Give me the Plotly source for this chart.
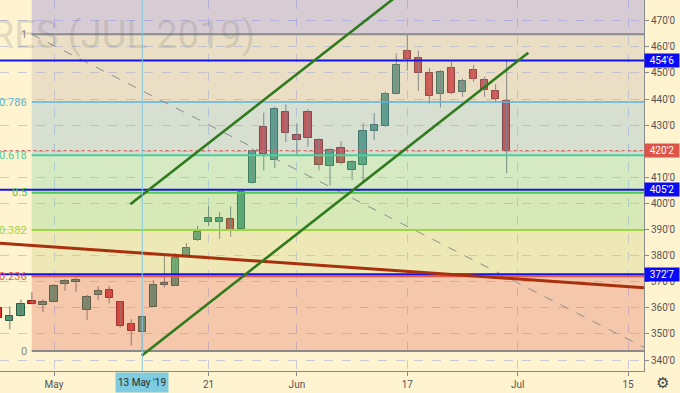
import plotly.graph_objects as go

# ---------------- data ----------------
# bar index: 0 = 1 May 2019 (trading days, Memorial Day skipped)
bar_index = list(range(-5, 42))
opens = [359.8, 354.9, 356.9, 362.7, 361.0, 362.2, 369.1, 370.0, 359.1, 364.9,
         366.9, 362.3, 353.8, 350.9, 360.5, 368.7, 368.4, 379.9, 385.9, 393.0,
         393.0, 394.0, 390.3, 407.8, 429.3, 416.5, 435.1, 426.3, 434.9, 424.3,
         414.4, 421.1, 412.9, 414.9, 427.7, 429.7, 441.9, 458.5, 455.6, 449.8,
         441.8, 452.0, 442.5, 451.1, 447.3, 443.1, 439.2]
highs = [360.6, 360.6, 363.2, 366.0, 363.2, 369.1, 371.0, 371.9, 365.0, 368.3,
         368.3, 362.6, 355.6, 357.0, 370.6, 379.9, 380.9, 384.8, 391.4, 398.9,
         396.6, 398.9, 405.2, 421.1, 434.8, 437.1, 437.9, 430.7, 436.1, 424.9,
         421.1, 423.8, 416.6, 430.7, 434.6, 442.9, 457.5, 464.5, 458.5, 451.9,
         451.1, 454.3, 447.9, 453.0, 448.5, 445.7, 455.2]
lows = [354.7, 351.8, 356.6, 361.3, 358.3, 362.2, 366.5, 366.1, 355.4, 362.9,
        361.7, 352.4, 345.5, 343.5, 360.5, 367.8, 368.4, 379.6, 385.6, 391.3,
        386.4, 387.2, 390.0, 407.5, 412.7, 413.5, 423.5, 418.4, 421.7, 412.7,
        406.9, 414.9, 409.0, 408.4, 424.3, 429.4, 441.8, 450.8, 443.1, 438.3,
        436.8, 441.8, 440.8, 446.6, 440.8, 438.9, 411.6]
closes = [356.0, 357.0, 361.3, 361.3, 362.4, 368.3, 370.4, 370.5, 364.0, 366.3,
          363.8, 353.0, 351.2, 356.6, 368.6, 369.5, 379.0, 383.1, 389.0, 394.3,
          394.3, 390.0, 404.4, 420.2, 418.8, 436.3, 426.9, 424.2, 425.2, 414.7,
          420.3, 415.6, 415.8, 427.9, 430.2, 442.1, 453.0, 455.2, 449.8, 441.1,
          450.5, 442.4, 446.9, 447.5, 443.4, 440.1, 420.25]

x_tick_index = [0, 14, 22, 32, 42, 52]
x_tick_labels = ["May", "21", "Jun", "17", "Jul", "15"]
crosshair_index = 8
crosshair_label = "13 May '19"

price_ticks = list(range(340, 480, 10))

fib_low = 343.45
fib_high = 464.8
fib_start_index = -2.02
fib_end_index = 54.08
fib_levels = [0, 0.236, 0.382, 0.5, 0.618, 0.786, 1, 1.618]
fib_line_colors = ["#8a8a8a", "#e8574f", "#9fd444", "#4fc94f", "#4ccf9c", "#5cb3dc", "#8a8a8a", "#8a8a8a"]
fib_band_colors = ["rgba(222,103,91,0.3)", "rgba(195,210,118,0.3)", "rgba(118,213,125,0.3)",
                   "rgba(115,213,165,0.3)", "rgba(122,180,207,0.3)", "rgba(185,176,171,0.3)",
                   "rgba(125,116,221,0.3)"]

key_levels = [454.75, 405.25, 372.875]
last_price = 420.25

upper_channel = [(6.91, 399.66), (31.5, 480.9)]
lower_channel = [(7.94, 341.65), (42.96, 457.74)]
long_trend = [(-4.891, 384.71), (53.44, 367.70)]

watermark = "CORN FUTURES (JUL 2019)"

# ---------------- helpers ----------------
def fmt_eighths(p):
    whole = int(p)
    return f"{whole}'{int(round((p - whole) * 8))}"

BG = "#fff3d0"
FONT = "Roboto"
UP_FILL, UP_LINE = "#4f9a74", "#2d5a43"
DN_FILL, DN_LINE = "#da3530", "#7e1f1c"

fig = go.Figure()

# wicks
wx, wy = [], []
for i, h, l in zip(bar_index, highs, lows):
    wx += [i, i, None]
    wy += [l, h, None]
fig.add_trace(go.Scatter(x=wx, y=wy, mode="lines", line=dict(color="#767676", width=1),
                         hoverinfo="skip"))

# bodies
up = [c >= o for o, c in zip(opens, closes)]
fig.add_trace(go.Bar(
    x=bar_index,
    base=[min(o, c) for o, c in zip(opens, closes)],
    y=[max(abs(c - o), 0.4) for o, c in zip(opens, closes)],
    width=0.66,
    marker=dict(color=[UP_FILL if u else DN_FILL for u in up],
                line=dict(color=[UP_LINE if u else DN_LINE for u in up], width=1)),
    hoverinfo="skip",
))

shapes = []
fib_prices = [fib_low + f * (fib_high - fib_low) for f in fib_levels]
# bands (drawn above candles, translucent like the original drawing)
for k in range(len(fib_levels) - 1):
    shapes.append(dict(type="rect", xref="x", yref="y", x0=fib_start_index, x1=80,
                       y0=fib_prices[k], y1=fib_prices[k + 1], fillcolor=fib_band_colors[k],
                       line=dict(width=0), layer="above"))
# fib level lines
for k, f in enumerate(fib_levels[:-1]):
    shapes.append(dict(type="line", xref="x", yref="y", x0=fib_start_index, x1=80,
                       y0=fib_prices[k], y1=fib_prices[k], layer="above",
                       line=dict(color=fib_line_colors[k], width=2 if f not in (0.786,) else 1.5)))
# fib trend (dashed diagonal)
shapes.append(dict(type="line", xref="x", yref="y", x0=fib_start_index, y0=fib_high,
                   x1=fib_end_index, y1=fib_low, layer="above",
                   line=dict(color="#8d8d8d", width=1, dash="dash")))
# key horizontal levels
for lv in key_levels:
    shapes.append(dict(type="line", xref="x", yref="y", x0=-10, x1=80, y0=lv, y1=lv,
                       layer="above", line=dict(color="#1414e6", width=2)))
# last price dotted line
shapes.append(dict(type="line", xref="x", yref="y", x0=-10, x1=80, y0=last_price, y1=last_price,
                   layer="above", line=dict(color="#d26a6a", width=1.2, dash="dot")))
# long downtrend line
shapes.append(dict(type="line", xref="x", yref="y", x0=long_trend[0][0], y0=long_trend[0][1],
                   x1=long_trend[1][0], y1=long_trend[1][1], layer="above",
                   line=dict(color="#a8300c", width=3)))
# channel
for seg in (upper_channel, lower_channel):
    shapes.append(dict(type="line", xref="x", yref="y", x0=seg[0][0], y0=seg[0][1],
                       x1=seg[1][0], y1=seg[1][1], layer="above",
                       line=dict(color="#2f7a1c", width=2.6)))
# crosshair
shapes.append(dict(type="line", xref="x", yref="paper", x0=crosshair_index, x1=crosshair_index,
                   y0=0, y1=1, layer="above", line=dict(color="#86c8de", width=1)))

annotations = []
# watermark
annotations.append(dict(text=watermark, xref="paper", yref="paper", x=257 / 644, y=1 - 35 / 371,
                        xanchor="right", yanchor="middle", showarrow=False,
                        font=dict(family=FONT, size=38, color="rgba(110,110,110,0.2)")))
# fib labels
for k, f in enumerate(fib_levels[:-1]):
    txt = "0" if f == 0 else ("1" if f == 1 else f"{f:g}")
    annotations.append(dict(text=txt, xref="x", yref="y", x=-2.25, y=fib_prices[k],
                            xanchor="right", yanchor="middle", showarrow=False,
                            font=dict(family=FONT, size=11, color=fib_line_colors[k])))
# right-axis price labels
for lv in key_levels:
    annotations.append(dict(text=fmt_eighths(lv), xref="paper", yref="y", x=1.0, y=lv,
                            xanchor="left", yanchor="middle", showarrow=False,
                            bgcolor="#0a0af5", width=33, height=12, borderpad=0.5,
                            font=dict(family=FONT, size=10, color="white")))
annotations.append(dict(text=fmt_eighths(last_price), xref="paper", yref="y", x=1.0, y=last_price,
                        xanchor="left", yanchor="middle", showarrow=False,
                        bgcolor="#df5449", width=33, height=12, borderpad=0.5,
                        font=dict(family=FONT, size=10, color="white")))
# crosshair date label
annotations.append(dict(text=crosshair_label, xref="x", yref="paper", x=crosshair_index, y=0,
                        xanchor="center", yanchor="top", yshift=-1, showarrow=False,
                        bgcolor="#7fcbe0", width=50, height=17, borderpad=1,
                        font=dict(family=FONT, size=10, color="#2a2a2a")))
# settings icon
annotations.append(dict(text="⚙", xref="paper", yref="paper", x=662 / 644, y=-11 / 371,
                        xanchor="center", yanchor="middle", showarrow=False,
                        font=dict(size=15, color="#444")))

fig.update_layout(
    width=680, height=393,
    margin=dict(l=0, r=36, t=0, b=22, autoexpand=False),
    paper_bgcolor=BG, plot_bgcolor=BG,
    showlegend=False,
    shapes=shapes, annotations=annotations,
    xaxis=dict(range=[-4.891, 53.44], tickmode="array", tickvals=x_tick_index,
               ticktext=x_tick_labels, showgrid=True, gridcolor="#c8cbd6", griddash="dash",
               gridwidth=1, zeroline=False, showline=True, linecolor="#8a8a8a", linewidth=1,
               ticks="outside", ticklen=4, tickcolor="#8a8a8a", automargin=False,
               tickfont=dict(family=FONT, size=10, color="#555")),
    yaxis=dict(side="right", range=[335.79, 477.93], tickmode="array", tickvals=price_ticks,
               ticktext=[fmt_eighths(p) for p in price_ticks], showgrid=True,
               gridcolor="#c8cbd6", griddash="dash", gridwidth=1, zeroline=False,
               showline=True, linecolor="#8a8a8a", linewidth=1, ticks="outside", ticklen=4,
               tickcolor="#8a8a8a", automargin=False,
               tickfont=dict(family=FONT, size=10, color="#555")),
    bargap=0,
)

fig.write_html("out.html", config={"displayModeBar": False},
               post_script="document.body.style.margin='0';document.body.style.background='" + BG + "';")
